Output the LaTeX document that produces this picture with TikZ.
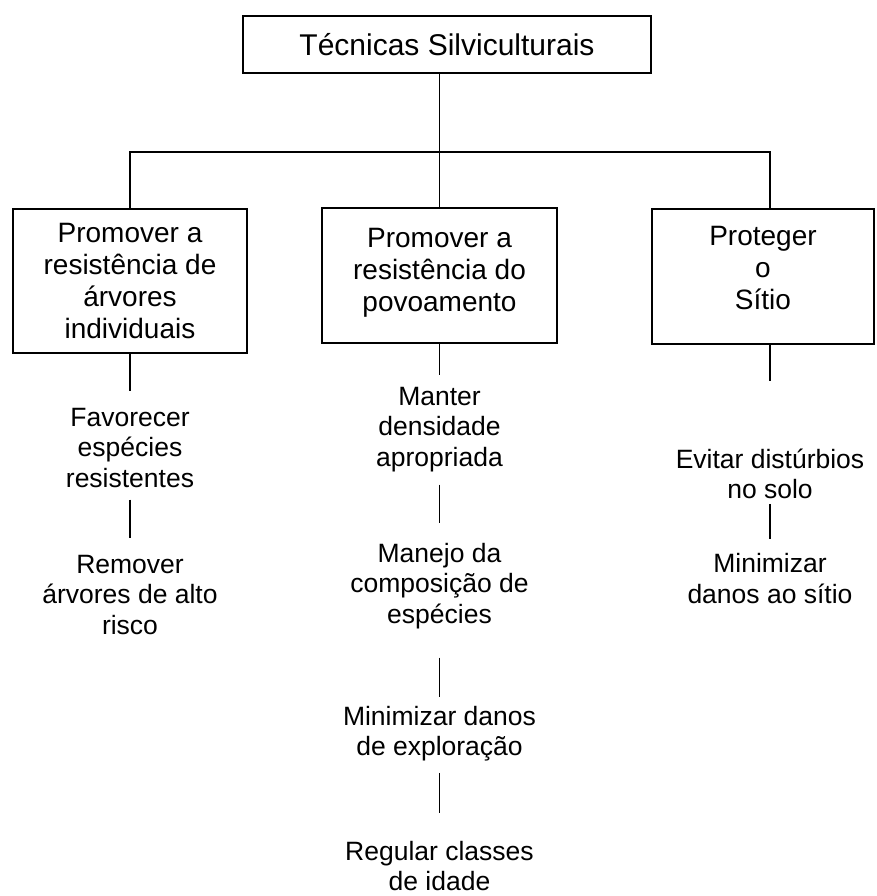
\documentclass[tikz,border=0pt]{standalone}
\usepackage{fontspec}
\setmainfont{Liberation Sans}
\begin{document}
\begin{tikzpicture}[x=1pt, y=-1pt, line width=1.6pt,
  box/.style={draw, rectangle, align=center, inner sep=0pt,
    font=\fontsize{28}{32}\selectfont},
  item/.style={align=center, inner sep=0pt,
    font=\fontsize{26.5}{30.5}\selectfont}]
\useasboundingbox (0,0) rectangle (877,896);

\node[box, minimum width=408, minimum height=57, font=\fontsize{30}{34}\selectfont] (top) at (447,44.5) {Técnicas Silviculturais};

\node[box, minimum width=234, minimum height=144] (lbox) at (130,281) {Promover a\\resistência de\\árvores\\individuais};
\node[box, minimum width=235, minimum height=135] (mbox) at (439.5,275.5) {Promover a\\resistência do\\povoamento\rule[-12pt]{0pt}{0pt}};
\node[box, minimum width=222, minimum height=135] (rbox) at (763,276.5) {Proteger\\o\\Sítio\rule[-18pt]{0pt}{0pt}};

\node[item] (fav) at (130,448) {Favorecer\\espécies\\resistentes};
\node[item] (rem) at (130,595) {Remover\\árvores de alto\\risco};

\node[item] (man) at (439.5,429.5) {Manter\\densidade\\apropriada};
\node[item] (manejo) at (439.5,586) {Manejo da\\composição de\\espécies};
\node[item] (minexp) at (439.5,733.5) {Minimizar danos\\de exploração};
\node[item] (reg) at (439.5,866) {Regular classes\\de idade};

\node[item] (evit) at (770,474) {Evitar distúrbios\\no solo};
\node[item] (minsit) at (770,578.5) {Minimizar\\danos ao sítio};

\coordinate (hub) at (439.5,152);

\draw (top.south -| mbox.north) -- (mbox.north);
\draw (lbox.north) |- (hub) -| (evit |- rbox.north);

\draw[shorten >=16] (lbox.south) -- (fav.north);
\draw[shorten <=11, shorten >=16] (fav.south) -- (rem.north);

\draw[shorten >=11] (mbox.south) -- (man.north);
\draw[shorten <=12, shorten >=19] (man.south) -- (manejo.north);
\draw[shorten <=28, shorten >=8] (manejo.south) -- (minexp.north);
\draw[shorten <=11, shorten >=27] (minexp.south) -- (reg.north);

\draw[shorten >=67] (rbox.south -| evit) -- (evit.north);
\draw[shorten <=4, shorten >=14] (evit.south) -- (minsit.north);
\end{tikzpicture}
\end{document}
